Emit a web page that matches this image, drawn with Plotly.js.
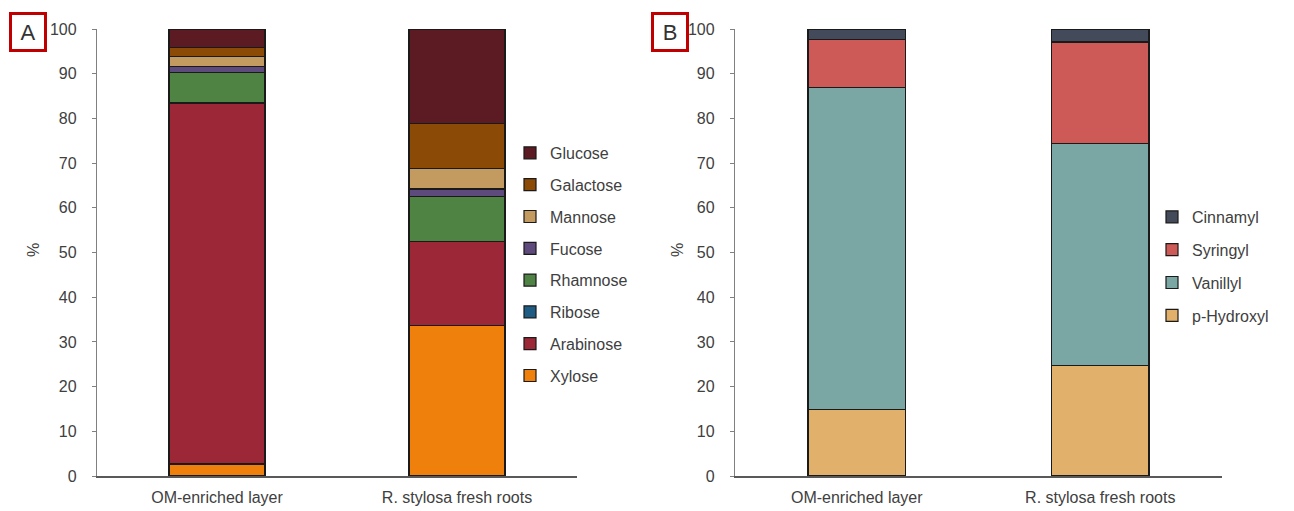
<!DOCTYPE html>
<html>
<head>
<meta charset="utf-8">
<script src="https://cdn.plot.ly/plotly-3.0.1.min.js"></script>
<style>html,body{margin:0;padding:0;background:#fff;}#chart{width:1294px;height:511px;}</style>
</head>
<body>
<div id="chart"></div>
<script>
// Categories
const categories = ["OM-enriched layer", "R. stylosa fresh roots"];

// Panel A: sugars (%)
const sugarNames = ["Xylose", "Arabinose", "Ribose", "Rhamnose", "Fucose", "Mannose", "Galactose", "Glucose"];
const xylose    = [2.7, 33.6];
const arabinose = [80.6, 18.8];
const ribose    = [0.3, 0.0];
const rhamnose  = [6.6, 10.1];
const fucose    = [1.5, 1.7];
const mannose   = [2.2, 4.6];
const galactose = [1.9, 10.1];
const glucose   = [4.2, 20.9];
const sugarValues = [xylose, arabinose, ribose, rhamnose, fucose, mannose, galactose, glucose];
const sugarColors = ["#f0800c", "#9c2736", "#1f5c84", "#4e8343", "#5f4a7d", "#c39a60", "#8b4a06", "#5c1a22"];

// Panel B: lignin phenols (%)
const ligninNames = ["p-Hydroxyl", "Vanillyl", "Syringyl", "Cinnamyl"];
const pHydroxyl = [14.8, 24.8];
const vanillyl  = [72.2, 49.6];
const syringyl  = [10.7, 22.7];
const cinnamyl  = [2.3, 2.9];
const ligninValues = [pHydroxyl, vanillyl, syringyl, cinnamyl];
const ligninColors = ["#e1b06a", "#7aa6a3", "#cd5a56", "#434a5a"];

const yTicks = [0, 10, 20, 30, 40, 50, 60, 70, 80, 90, 100];

const W = 1294, H = 511;
const px = v => v / W;
const py = v => 1 - v / H;

const traces = [];
sugarNames.forEach((n, i) => {
  traces.push({
    type: "bar", name: n, x: categories, y: sugarValues[i],
    xaxis: "x", yaxis: "y", legend: "legend", legendgroup: "a" + i,
    legendrank: 100 - i,
    marker: {color: sugarColors[i], line: {color: "#1a1a1a", width: 1.2}},
    width: 0.4
  });
});
ligninNames.forEach((n, i) => {
  traces.push({
    type: "bar", name: n, x: categories, y: ligninValues[i],
    xaxis: "x2", yaxis: "y2", legend: "legend2", legendgroup: "b" + i,
    legendrank: 100 - i,
    marker: {color: ligninColors[i], line: {color: "#1a1a1a", width: 1.2}},
    width: 0.4
  });
});

const textColor = "#404040";
const fam = "Liberation Sans, Arial, sans-serif";
const font = {family: fam, size: 16, color: textColor};

function yax(anchor) {
  return {
    domain: [py(476), py(29)], anchor: anchor, range: [0, 100],
    tickvals: yTicks, ticktext: yTicks.map(String),
    showgrid: false, zeroline: false, showline: true, linecolor: "#808080", linewidth: 1.2,
    ticks: "outside", ticklen: 4, tickcolor: "#808080", ticklabelstandoff: 12,
    tickfont: font, fixedrange: true
  };
}
function xax(anchor, d0, d1) {
  return {
    domain: [px(d0), px(d1)], anchor: anchor, type: "category",
    range: [-0.5, 1.5], showgrid: false, zeroline: false,
    showline: true, linecolor: "#595959", linewidth: 1.5, ticks: "",
    ticklabelstandoff: 6,
    tickfont: font, fixedrange: true
  };
}

const layout = {
  width: W, height: H,
  margin: {l: 0, r: 0, t: 0, b: 0},
  paper_bgcolor: "#fff", plot_bgcolor: "#fff",
  barmode: "stack",
  font: font,
  showlegend: true,
  xaxis: xax("y", 97, 577),
  yaxis: yax("x"),
  xaxis2: xax("y2", 735, 1222),
  yaxis2: yax("x2"),
  legend: {
    x: px(510), y: py(136), xanchor: "left", yanchor: "top",
    traceorder: "grouped", tracegroupgap: 8,
    font: font, bgcolor: "rgba(0,0,0,0)"
  },
  legend2: {
    x: px(1152), y: py(200), xanchor: "left", yanchor: "top",
    traceorder: "grouped", tracegroupgap: 9,
    font: font, bgcolor: "rgba(0,0,0,0)"
  },
  annotations: [
    {text: "%", xref: "paper", yref: "paper", x: px(33), y: py(250), xanchor: "center", yanchor: "middle",
     showarrow: false, textangle: -90, font: font},
    {text: "%", xref: "paper", yref: "paper", x: px(677), y: py(250), xanchor: "center", yanchor: "middle",
     showarrow: false, textangle: -90, font: font},
    {text: "A", xref: "paper", yref: "paper", x: px(28), y: py(32), xanchor: "center", yanchor: "middle",
     showarrow: false, font: {family: fam, size: 22, color: "#333"},
     bordercolor: "#c00000", borderwidth: 3, borderpad: 2, width: 28, height: 30},
    {text: "B", xref: "paper", yref: "paper", x: px(670), y: py(32), xanchor: "center", yanchor: "middle",
     showarrow: false, font: {family: fam, size: 22, color: "#333"},
     bordercolor: "#c00000", borderwidth: 3, borderpad: 2, width: 28, height: 30}
  ]
};

Plotly.newPlot("chart", traces, layout, {displayModeBar: false, staticPlot: true});
</script>
</body>
</html>
